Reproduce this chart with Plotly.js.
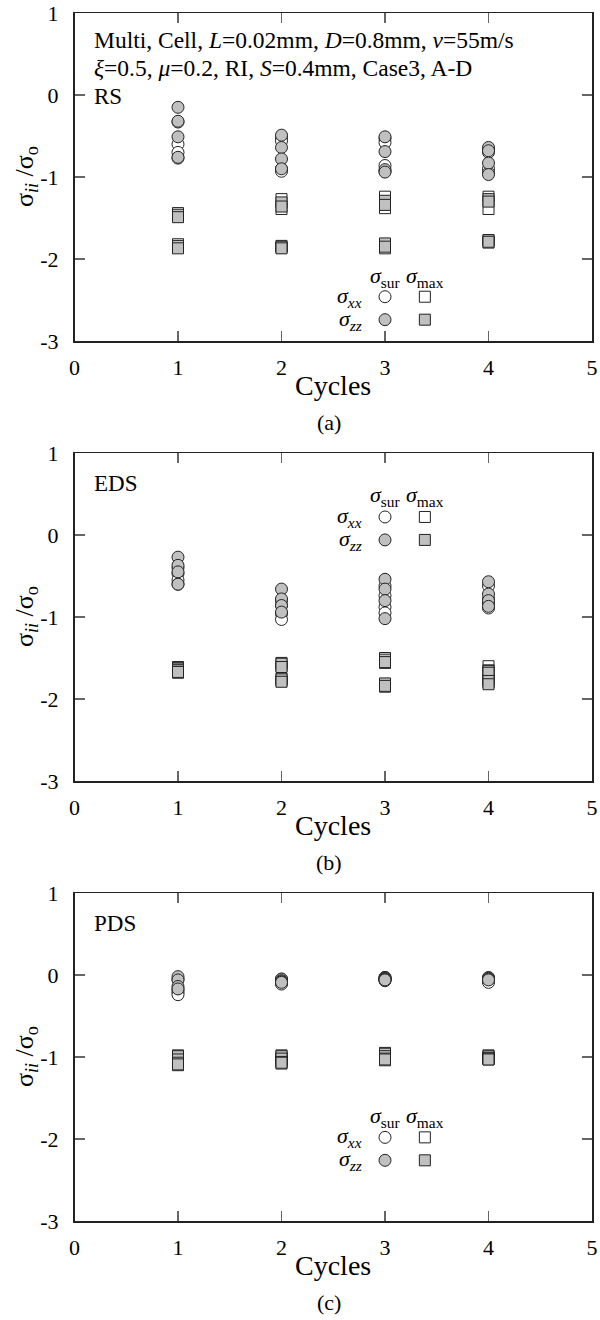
<!DOCTYPE html>
<html>
<head>
<meta charset="utf-8">
<script src="https://cdn.plot.ly/plotly-3.0.1.min.js"></script>
<style>html,body{margin:0;padding:0;background:#fff;}#chart{width:600px;height:1320px;}</style>
</head>
<body>
<div id="chart"></div>
<script>
// ---------- data ----------
const cycles = [1, 2, 3, 4];
const xTicks = [0, 1, 2, 3, 4, 5];
const yTicks = [-3, -2, -1, 0, 1];

// (a) RS : values per cycle
const rs_xx_sur = [[-0.33, -0.60, -0.70, -0.77], [-0.52, -0.56, -0.90, -0.93], [-0.53, -0.58, -0.86, -0.93], [-0.66, -0.70, -0.90, -0.95]];
const rs_zz_sur = [[-0.15, -0.32, -0.51, -0.76], [-0.49, -0.64, -0.78, -0.90], [-0.51, -0.69, -0.91, -0.94], [-0.64, -0.68, -0.83, -0.97]];
const rs_xx_max = [[-1.44, -1.47, -1.82, -1.85], [-1.27, -1.39, -1.84, -1.86], [-1.24, -1.38, -1.83, -1.87], [-1.24, -1.39, -1.77, -1.80]];
const rs_zz_max = [[-1.46, -1.49, -1.84, -1.87], [-1.31, -1.36, -1.85, -1.87], [-1.29, -1.34, -1.81, -1.85], [-1.27, -1.30, -1.77, -1.79]];

// (b) EDS
const eds_xx_sur = [[-0.40, -0.47, -0.55, -0.60], [-0.80, -0.86, -0.96, -1.03], [-0.62, -0.74, -0.88, -0.95], [-0.62, -0.78, -0.83, -0.89]];
const eds_zz_sur = [[-0.27, -0.37, -0.45, -0.60], [-0.66, -0.78, -0.86, -0.94], [-0.54, -0.66, -0.80, -1.02], [-0.57, -0.72, -0.80, -0.87]];
const eds_xx_max = [[-1.61, -1.63, -1.66, -1.68], [-1.56, -1.60, -1.75, -1.78], [-1.50, -1.56, -1.82, -1.85], [-1.60, -1.65, -1.76, -1.80]];
const eds_zz_max = [[-1.62, -1.64, -1.65, -1.67], [-1.57, -1.61, -1.76, -1.79], [-1.52, -1.55, -1.81, -1.84], [-1.66, -1.68, -1.78, -1.82]];

// (c) PDS
const pds_xx_sur = [[-0.05, -0.18, -0.21, -0.24], [-0.05, -0.08, -0.10, -0.11], [-0.03, -0.05, -0.06, -0.07], [-0.04, -0.06, -0.08, -0.09]];
const pds_zz_sur = [[-0.02, -0.06, -0.14, -0.17], [-0.05, -0.07, -0.08, -0.09], [-0.03, -0.04, -0.05, -0.06], [-0.03, -0.04, -0.05, -0.06]];
const pds_xx_max = [[-0.98, -1.02, -1.06, -1.10], [-0.98, -1.01, -1.05, -1.08], [-0.95, -0.98, -1.01, -1.04], [-0.98, -1.00, -1.02, -1.03]];
const pds_zz_max = [[-0.99, -1.03, -1.07, -1.09], [-0.99, -1.02, -1.06, -1.07], [-0.96, -0.99, -1.02, -1.03], [-0.99, -1.01, -1.02, -1.03]];

const panelNames = ['RS', 'EDS', 'PDS'];
const panelLetters = ['(a)', '(b)', '(c)'];

// ---------- build ----------
const FONT = 'Liberation Serif, Times New Roman, serif';
const GRAY = '#c0c0c0';
const W = 600, H = 1320;
const plotL = 74.5, plotR = 592;
const panelTop = [13, 453, 893];
const panelH = 328;

function pts(vals) {
  const x = [], y = [];
  vals.forEach((arr, i) => arr.forEach(v => { x.push(cycles[i]); y.push(v); }));
  return { x, y };
}

const panels = [
  [rs_xx_sur, rs_zz_sur, rs_xx_max, rs_zz_max],
  [eds_xx_sur, eds_zz_sur, eds_xx_max, eds_zz_max],
  [pds_xx_sur, pds_zz_sur, pds_xx_max, pds_zz_max]
];

const traces = [];
const layout = {
  width: W, height: H,
  margin: { l: 0, r: 0, t: 0, b: 0 },
  paper_bgcolor: '#fff', plot_bgcolor: '#fff',
  showlegend: false,
  font: { family: FONT, color: '#000', size: 22 },
  annotations: [], shapes: []
};

const px = v => v / W;
const py = v => 1 - v / H;

// legend row positions (data y) per panel
const legendY = [
  { hdr: -2.22, r1: -2.46, r2: -2.74 },
  { hdr: 0.47, r1: 0.22, r2: -0.06 },
  { hdr: -1.73, r1: -1.98, r2: -2.26 }
];

panels.forEach((series, p) => {
  const sfx = p === 0 ? '' : String(p + 1);
  const xa = 'x' + sfx, ya = 'y' + sfx;
  const top = panelTop[p], bot = top + panelH;
  const styles = [
    { symbol: 'circle', size: 12, color: '#fff' },
    { symbol: 'square', size: 11, color: '#fff' },
    { symbol: 'circle', size: 12, color: GRAY },
    { symbol: 'square', size: 11, color: GRAY }
  ];
  const order = [0, 2, 1, 3];
  order.forEach((si, k) => {
    const d = pts(series[si]);
    const st = styles[k];
    traces.push({
      type: 'scatter', mode: 'markers', x: d.x, y: d.y, xaxis: xa, yaxis: ya,
      hoverinfo: 'skip',
      marker: { symbol: st.symbol, size: st.size, color: st.color, line: { color: '#222', width: 1 } }
    });
  });

  const axCommon = {
    showgrid: false, zeroline: false, showline: true, linecolor: '#222', linewidth: 1.5,
    mirror: 'allticks', ticks: 'inside', ticklen: 10, tickwidth: 1.5, tickcolor: '#666',
    tickfont: { family: FONT, size: 22, color: '#000' }, fixedrange: true
  };
  layout['xaxis' + sfx] = Object.assign({}, axCommon, {
    domain: [px(plotL), px(plotR)], range: [0, 5], tickmode: 'array', tickvals: xTicks,
    ticktext: xTicks.map(String), anchor: ya, ticklabelstandoff: 6
  });
  layout['yaxis' + sfx] = Object.assign({}, axCommon, {
    domain: [py(bot), py(top)], range: [-3, 1], tickmode: 'array', tickvals: yTicks,
    ticktext: yTicks.map(String), anchor: xa, ticklabelstandoff: 10
  });

  // y title
  layout.annotations.push({
    xref: 'paper', yref: 'paper', x: px(26), y: py(top + panelH / 2), textangle: -90,
    text: 'σ<sub><i>ii</i></sub>&nbsp;/σ<sub>o</sub>', showarrow: false,
    font: { family: FONT, size: 26 }, xanchor: 'center', yanchor: 'middle'
  });
  // x title
  layout.annotations.push({
    xref: 'paper', yref: 'paper', x: px((plotL + plotR) / 2), y: py(bot + 44),
    text: 'Cycles', showarrow: false, font: { family: FONT, size: 28 },
    xanchor: 'center', yanchor: 'middle'
  });
  // sub-label
  layout.annotations.push({
    xref: 'paper', yref: 'paper', x: px((plotL + plotR) / 2 - 4), y: py(bot + 81),
    text: panelLetters[p], showarrow: false, font: { family: FONT, size: 22 },
    xanchor: 'center', yanchor: 'middle'
  });
  // panel name
  layout.annotations.push({
    xref: 'paper', yref: 'paper', x: px(92), y: py(top + (p === 0 ? 83 : 30)),
    text: panelNames[p], showarrow: false, font: { family: FONT, size: 23 },
    xanchor: 'left', yanchor: 'middle'
  });

  // legend
  const L = legendY[p];
  const lx1 = 3.0, lx2 = 3.385, lxl = 2.80;
  layout.annotations.push(
    { xref: xa, yref: ya, x: lx1, y: L.hdr, text: '<i>σ</i><sub>sur</sub>', showarrow: false, font: { family: FONT, size: 22 }, xanchor: 'center', yanchor: 'middle' },
    { xref: xa, yref: ya, x: lx2, y: L.hdr, text: '<i>σ</i><sub>max</sub>', showarrow: false, font: { family: FONT, size: 22 }, xanchor: 'center', yanchor: 'middle' },
    { xref: xa, yref: ya, x: lxl, y: L.r1, text: '<i>σ<sub>xx</sub></i>', showarrow: false, font: { family: FONT, size: 22 }, xanchor: 'right', yanchor: 'middle' },
    { xref: xa, yref: ya, x: lxl, y: L.r2, text: '<i>σ<sub>zz</sub></i>', showarrow: false, font: { family: FONT, size: 22 }, xanchor: 'right', yanchor: 'middle' }
  );
  const key = (type, xv, yv, fill, r) => ({
    type: type, xref: xa, yref: ya, xsizemode: 'pixel', ysizemode: 'pixel',
    xanchor: xv, yanchor: yv, x0: -r, x1: r, y0: -r, y1: r,
    fillcolor: fill, line: { color: '#222', width: 1 }
  });
  layout.shapes.push(
    key('circle', lx1, L.r1, '#fff', 6), key('circle', lx1, L.r2, GRAY, 6),
    key('rect', lx2, L.r1, '#fff', 5.5), key('rect', lx2, L.r2, GRAY, 5.5)
  );
});

// parameter text in panel (a)
layout.annotations.push(
  { xref: 'paper', yref: 'paper', x: px(92), y: py(40), xanchor: 'left', yanchor: 'middle', showarrow: false,
    font: { family: FONT, size: 23.5 },
    text: 'Multi, Cell, <i>L</i>=0.02mm, <i>D</i>=0.8mm, <i>v</i>=55m/s' },
  { xref: 'paper', yref: 'paper', x: px(92), y: py(68), xanchor: 'left', yanchor: 'middle', showarrow: false,
    font: { family: FONT, size: 23.5 },
    text: '<i>ξ</i>=0.5, <i>μ</i>=0.2, RI, <i>S</i>=0.4mm, Case3, A-D' }
);

Plotly.newPlot('chart', traces, layout, { staticPlot: true, displayModeBar: false });
</script>
</body>
</html>
